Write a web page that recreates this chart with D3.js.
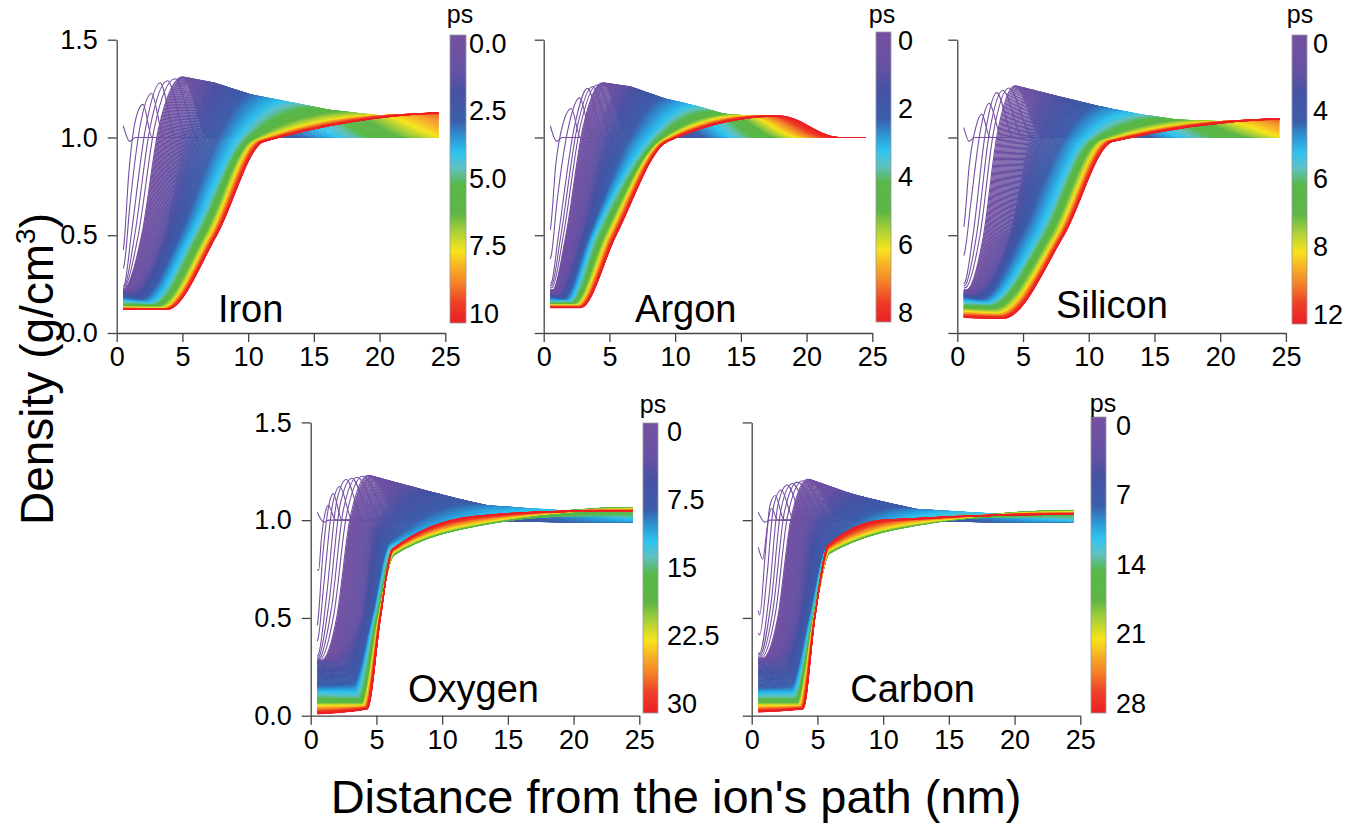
<!DOCTYPE html>
<html>
<head>
<meta charset="utf-8">
<script src="https://cdn.jsdelivr.net/npm/d3@7"></script>
<style>
  body { margin: 0; background: #fff; }
  svg { font-family: "Liberation Sans", Arial, Helvetica, sans-serif; }
</style>
</head>
<body>
<svg id="chart" width="1370" height="827"></svg>
<script>
// density profiles: key frames in time (ps),
// each frame = 7 points [distance nm, density g/cm3]
const ironTimes = [0, 0.042, 0.125, 0.25, 1.56, 3.1, 4.4, 5.8, 7.7, 10.4];
const ironCurves = [
  [[0.5,1.06],[1.0,0.98],[1.4,1.0],[1.7,1.0],[2.0,1.0],[2.3,1.0],[40,1.0]],
  [[0.5,0.42],[0.55,0.45],[0.9,0.8],[1.4,1.08],[2.0,1.17],[2.7,1.0],[40,1.0]],
  [[0.5,0.24],[0.6,0.25],[1.1,0.5],[2.2,1.05],[3.3,1.28],[4.5,1.0],[40,1.0]],
  [[0.5,0.22],[0.7,0.23],[1.9,0.5],[3.2,1.05],[5.0,1.31],[7.0,1.0],[40,1.0]],
  [[0.5,0.21],[1.0,0.2],[3.6,0.5],[5.2,1.0],[7.3,1.28],[10.5,1.0],[40,1.0]],
  [[0.5,0.18],[1.8,0.17],[4.8,0.5],[7.6,0.99],[10,1.22],[14,1.0],[40,1.0]],
  [[0.5,0.16],[2.5,0.15],[5.8,0.5],[9.2,0.98],[13,1.18],[17.5,1.0],[40,1.0]],
  [[0.5,0.14],[3.0,0.14],[6.5,0.5],[10.0,0.98],[16,1.14],[20.5,1.0],[40,1.0]],
  [[0.5,0.13],[3.4,0.125],[7.1,0.5],[10.6,0.98],[20,1.11],[25,1.0],[40,1.0]],
  [[0.5,0.12],[3.8,0.12],[7.6,0.5],[11.2,0.98],[27,1.13],[32,1.0],[40,1.0]]
];
const ironTicks = ["0.0", "2.5", "5.0", "7.5", "10"];

const argonTimes = [0, 0.035, 0.1, 0.21, 1.3, 2.6, 3.6, 4.8, 6.4, 8.6];
const argonCurves = [
  [[0.5,1.06],[1.0,0.98],[1.4,1.0],[1.7,1.0],[2.0,1.0],[2.3,1.0],[40,1.0]],
  [[0.5,0.52],[0.55,0.55],[0.9,0.85],[1.5,1.08],[2.1,1.15],[2.8,1.0],[40,1.0]],
  [[0.5,0.25],[0.6,0.26],[1.1,0.5],[2.3,1.05],[3.3,1.25],[4.5,1.0],[40,1.0]],
  [[0.5,0.22],[0.7,0.22],[1.7,0.5],[3.0,1.05],[4.5,1.28],[6.5,1.0],[40,1.0]],
  [[0.5,0.2],[1.0,0.19],[2.9,0.5],[4.6,1.0],[6.5,1.26],[9.5,1.0],[40,1.0]],
  [[0.5,0.18],[1.5,0.17],[3.5,0.5],[6.5,0.99],[9,1.2],[12.5,1.0],[40,1.0]],
  [[0.5,0.16],[1.9,0.16],[3.9,0.5],[7.9,0.98],[11.5,1.16],[14.5,1.0],[40,1.0]],
  [[0.5,0.15],[2.2,0.15],[4.5,0.5],[8.7,0.98],[13.5,1.12],[17,1.0],[40,1.0]],
  [[0.5,0.14],[2.5,0.14],[5.0,0.5],[9.0,0.98],[15.5,1.11],[19.5,1.0],[40,1.0]],
  [[0.5,0.13],[2.8,0.13],[5.5,0.5],[9.4,0.98],[18,1.11],[22.5,1.0],[40,1.0]]
];
const argonTicks = ["0", "2", "4", "6", "8"];

const siliconTimes = [0, 0.05, 0.15, 0.3, 1.86, 3.7, 5.2, 6.9, 9.2, 12.4];
const siliconCurves = [
  [[0.5,1.05],[0.9,0.98],[1.3,1.0],[1.6,1.0],[1.9,1.0],[2.2,1.0],[40,1.0]],
  [[0.5,0.54],[0.55,0.57],[0.9,0.85],[1.4,1.05],[1.86,1.12],[2.5,1.0],[40,1.0]],
  [[0.5,0.25],[0.6,0.26],[1.2,0.5],[2.2,1.05],[3.0,1.23],[4.3,1.0],[40,1.0]],
  [[0.5,0.22],[0.7,0.22],[2.0,0.5],[3.0,1.0],[4.4,1.265],[6.5,1.0],[40,1.0]],
  [[0.5,0.2],[1.0,0.19],[4.0,0.5],[5.5,1.0],[7.0,1.22],[10.5,1.0],[40,1.0]],
  [[0.5,0.18],[1.8,0.17],[4.9,0.5],[8.0,0.99],[10.5,1.16],[15,1.0],[40,1.0]],
  [[0.5,0.16],[2.2,0.15],[6.2,0.5],[9.6,0.98],[13.5,1.12],[17.5,1.0],[40,1.0]],
  [[0.5,0.13],[2.6,0.13],[6.9,0.5],[10.5,0.98],[16.5,1.09],[21,1.0],[40,1.0]],
  [[0.5,0.11],[3.0,0.1],[7.6,0.5],[11.2,0.98],[20.5,1.08],[25,1.0],[40,1.0]],
  [[0.5,0.08],[3.5,0.075],[8.1,0.5],[11.8,0.98],[27,1.1],[32,1.0],[40,1.0]]
];
const siliconTicks = ["0", "4", "6", "8", "12"];

const oxygenTimes = [0, 0.1, 0.2, 0.4, 0.8, 4.7, 9.5, 14.2, 17.6, 23.3, 31.5];
const oxygenCurves = [
  [[0.5,1.04],[1.0,0.99],[1.4,1.0],[1.6,1.0],[1.8,1.0],[2.0,1.0],[40,1.0]],
  [[0.5,0.745],[0.6,0.74],[0.8,0.9],[1.1,1.04],[1.34,1.077],[1.9,1.0],[40,1.0]],
  [[0.5,0.455],[0.55,0.48],[0.9,0.8],[1.4,1.08],[1.72,1.137],[2.4,1.0],[40,1.0]],
  [[0.5,0.3],[0.6,0.31],[1.2,0.6],[2.0,1.1],[2.74,1.21],[4.0,1.0],[40,1.0]],
  [[0.5,0.28],[0.8,0.28],[2.0,0.5],[3.0,1.0],[4.4,1.23],[7,1.0],[40,1.0]],
  [[0.5,0.27],[2.0,0.28],[3.9,0.5],[4.8,0.95],[7.5,1.17],[12,1.0],[40,1.0]],
  [[0.5,0.15],[3.2,0.16],[4.7,0.5],[6.0,0.88],[12,1.08],[20,0.99],[40,1.0]],
  [[0.5,0.11],[3.5,0.1],[4.9,0.5],[6.2,0.86],[20,1.04],[30,1.0],[40,1.0]],
  [[0.5,0.07],[3.8,0.07],[5.1,0.5],[6.3,0.82],[14,0.99],[24.5,1.065],[40,1.065]],
  [[0.5,0.05],[4.0,0.05],[5.2,0.5],[6.3,0.84],[14,1.0],[24.5,1.055],[40,1.055]],
  [[0.5,0.01],[4.3,0.035],[5.3,0.5],[6.2,0.85],[12.5,1.02],[20,1.045],[40,1.045]]
];
const oxygenTicks = ["0", "7.5", "15", "22.5", "30"];

const carbonTimes = [0, 0.093, 0.19, 0.37, 0.75, 4.4, 8.9, 13.3, 16.5, 21.8, 29.5];
const carbonCurves = [
  [[0.5,1.04],[1.0,0.99],[1.4,1.0],[1.6,1.0],[1.8,1.0],[2.0,1.0],[40,1.0]],
  [[0.5,0.86],[0.85,0.8],[1.1,0.92],[1.3,1.02],[1.5,1.06],[2.0,1.0],[40,1.0]],
  [[0.5,0.52],[0.6,0.5],[1.0,0.8],[1.4,1.08],[1.8,1.13],[2.5,1.0],[40,1.0]],
  [[0.5,0.32],[0.6,0.32],[1.3,0.6],[2.0,1.08],[2.7,1.18],[4.0,1.0],[40,1.0]],
  [[0.5,0.29],[0.8,0.29],[2.0,0.5],[3.0,1.0],[4.3,1.21],[7,1.0],[40,1.0]],
  [[0.5,0.27],[2.0,0.28],[3.6,0.5],[4.5,0.95],[7.0,1.14],[11.5,1.0],[40,1.0]],
  [[0.5,0.14],[3.0,0.15],[4.4,0.5],[5.7,0.86],[11,1.06],[19,0.99],[40,1.0]],
  [[0.5,0.1],[3.2,0.1],[4.6,0.5],[5.8,0.85],[18,1.03],[28,1.0],[40,1.0]],
  [[0.5,0.07],[3.4,0.07],[4.7,0.5],[5.9,0.83],[14,0.99],[24.5,1.05],[40,1.05]],
  [[0.5,0.05],[3.6,0.05],[4.75,0.5],[5.9,0.85],[14,1.0],[24.5,1.04],[40,1.04]],
  [[0.5,0.02],[3.9,0.035],[4.8,0.5],[5.8,0.87],[10,1.0],[24.5,1.03],[40,1.03]]
];
const carbonTicks = ["0", "7", "14", "21", "28"];

const xTicks = [0, 5, 10, 15, 20, 25];
const yTicks = [0, 0.5, 1.0, 1.5];

// rainbow of the colour bars
const cmapStops = [0, 0.12, 0.2, 0.3, 0.36, 0.41, 0.46, 0.52, 0.62, 0.68, 0.75, 0.81, 0.87, 0.93, 1];
const cmapColors = ["#7650a1", "#6651a3", "#4652a3", "#3b5eab", "#2b9ad8", "#2fc3ef", "#5fc1c4",
  "#58b848", "#5db646", "#a7cf3a", "#f7e41b", "#f7ac27", "#f27b29", "#ee3e27", "#ec1e25"];

const X_MAX = 25, Y_MAX = 1.5;
const PLOT_W = 328.6, PLOT_H = 293.3;

const panels = [
  { name: "Iron", times: ironTimes, curves: ironCurves, ticks: ironTicks },
  { name: "Argon", times: argonTimes, curves: argonCurves, ticks: argonTicks },
  { name: "Silicon", times: siliconTimes, curves: siliconCurves, ticks: siliconTicks },
  { name: "Oxygen", times: oxygenTimes, curves: oxygenCurves, ticks: oxygenTicks },
  { name: "Carbon", times: carbonTimes, curves: carbonCurves, ticks: carbonTicks }
];

// where each panel sits on the page, n = number of drawn time steps
const layout = [
  { ox: 116.7, oy: 333, bar: [450, 35, 16, 288], lab: 3, ps: [460, 23], name: [7.7, 321.7], showY: true, n: 250 },
  { ox: 543.7, oy: 333, bar: [876, 32, 15, 290], lab: 7, ps: [882, 23], name: [6.95, 321.7], showY: false, n: 250 },
  { ox: 957.3, oy: 333, bar: [1292, 35, 15, 289], lab: 6, ps: [1300, 23], name: [7.5, 318], showY: false, n: 250 },
  { ox: 310.7, oy: 715.7, bar: [643, 423, 15, 290], lab: 9, ps: [653, 413], name: [7.4, 701.7], showY: true, n: 320 },
  { ox: 751.7, oy: 715.7, bar: [1091, 417, 15, 296], lab: 10, ps: [1103, 412], name: [7.5, 701.7], showY: false, n: 320 }
];

const svg = d3.select("#chart");
const defs = svg.append("defs");

const rainbow = d3.scaleLinear().domain(cmapStops).range(cmapColors).interpolate(d3.interpolateRgb);

const grad = defs.append("linearGradient")
  .attr("id", "rainbow")
  .attr("x1", 0).attr("y1", 0).attr("x2", 0).attr("y2", 1);
grad.selectAll("stop")
  .data(cmapStops)
  .enter()
  .append("stop")
  .attr("offset", d => d)
  .attr("stop-color", (d, i) => cmapColors[i]);

// profile at time t, morphed between the two key frames around it
function frameAt(p, t) {
  const times = p.times;
  let k = d3.bisectRight(times, t) - 1;
  k = Math.max(0, Math.min(times.length - 2, k));
  const u = Math.max(0, Math.min(1, (t - times[k]) / (times[k + 1] - times[k])));
  return d3.interpolate(p.curves[k], p.curves[k + 1])(u);
}

function drawPanel(p, L, k) {
  const x = d3.scaleLinear([0, X_MAX], [L.ox, L.ox + PLOT_W]);
  const y = d3.scaleLinear([0, Y_MAX], [L.oy, L.oy - PLOT_H]);
  const tmax = p.times[p.times.length - 1];

  defs.append("clipPath")
    .attr("id", "clip" + k)
    .append("rect")
    .attr("x", x(0.5) - 1)
    .attr("y", y(Y_MAX) - 10)
    .attr("width", x(24.5) - x(0.5) + 1)
    .attr("height", PLOT_H + 20);

  const line = d3.line()
    .x(d => x(d[0]))
    .y(d => y(d[1]))
    .curve(d3.curveMonotoneX);

  const ts = d3.range(L.n).map(i => (i * tmax) / (L.n - 1));

  svg.append("g")
    .attr("clip-path", `url(#clip${k})`)
    .selectAll("path")
    .data(ts)
    .enter()
    .append("path")
    .attr("d", t => line(frameAt(p, t)))
    .attr("fill", "none")
    .attr("stroke", t => rainbow(t / tmax))
    .attr("stroke-width", 1.1);

  // axes
  const gx = svg.append("g")
    .attr("transform", `translate(0,${L.oy})`)
    .call(d3.axisBottom(x).tickValues(xTicks).tickSize(9).tickSizeOuter(0).tickPadding(5));
  const gy = svg.append("g")
    .attr("transform", `translate(${L.ox},0)`)
    .call(d3.axisLeft(y).tickValues(yTicks).tickSize(9).tickSizeOuter(0).tickPadding(10)
      .tickFormat(L.showY ? d3.format(".1f") : () => ""));
  [gx, gy].forEach(g => {
    g.attr("font-family", null).attr("font-size", 27);
    g.selectAll("path, line").attr("stroke", "#444").attr("stroke-width", 1.3);
    g.selectAll("text").attr("fill", "#000");
  });

  // colour bar
  const [bx, by, bw, bh] = L.bar;
  svg.append("rect")
    .attr("x", bx).attr("y", by)
    .attr("width", bw).attr("height", bh)
    .attr("fill", "url(#rainbow)")
    .attr("stroke", "#9a9a9a")
    .attr("stroke-width", 0.8);

  const ly = d3.scalePoint().domain(d3.range(p.ticks.length)).range([by + 8, by + bh - 10]);
  svg.append("g")
    .selectAll("text")
    .data(p.ticks)
    .enter()
    .append("text")
    .attr("x", bx + bw + L.lab)
    .attr("y", (d, i) => ly(i))
    .attr("dy", "0.36em")
    .attr("font-size", 27)
    .text(d => d);

  svg.append("text")
    .attr("x", L.ps[0]).attr("y", L.ps[1])
    .attr("text-anchor", "middle")
    .attr("font-size", 25)
    .text("ps");

  svg.append("text")
    .attr("x", x(L.name[0])).attr("y", L.name[1])
    .attr("font-size", 38)
    .text(p.name);
}

panels.forEach((p, k) => drawPanel(p, layout[k], k));

// shared axis titles
svg.append("text")
  .attr("x", 676).attr("y", 813)
  .attr("text-anchor", "middle")
  .attr("font-size", 47)
  .text("Distance from the ion's path (nm)");

const yt = svg.append("text")
  .attr("transform", "translate(53,369) rotate(-90)")
  .attr("text-anchor", "middle")
  .attr("font-size", 46);
yt.append("tspan").text("Density (g/cm");
yt.append("tspan").attr("font-size", 28).attr("dy", -18).text("3");
yt.append("tspan").attr("dy", 18).text(")");
</script>
</body>
</html>
